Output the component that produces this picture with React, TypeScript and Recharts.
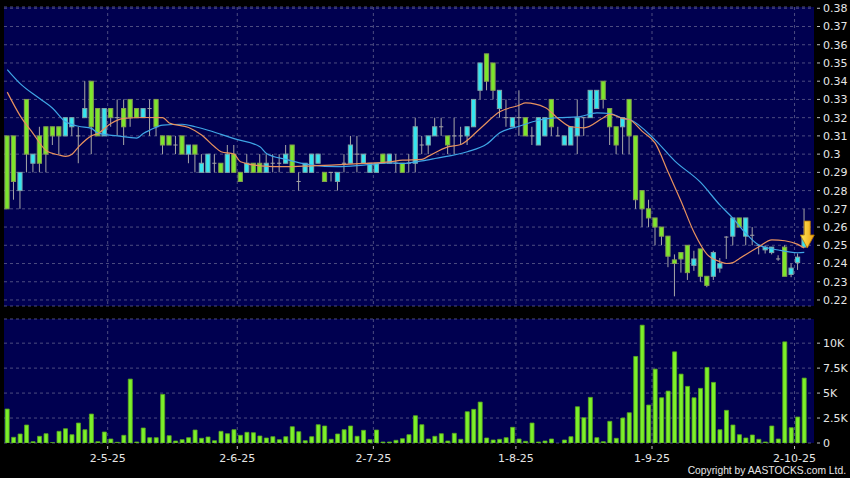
import {
  ComposedChart,
  Bar,
  Line,
  XAxis,
  YAxis,
  CartesianGrid,
  ReferenceDot,
} from 'recharts';

// Trading days, D-M-YY; the last slot is an empty band after the final candle.
const dates = [
  '7-4-25', '8-4-25', '9-4-25', '10-4-25', '11-4-25', '14-4-25', '15-4-25', '16-4-25', '17-4-25', '22-4-25',
  '23-4-25', '24-4-25', '25-4-25', '28-4-25', '29-4-25', '30-4-25',
  '2-5-25', '6-5-25', '7-5-25', '8-5-25', '9-5-25', '12-5-25', '13-5-25', '14-5-25', '15-5-25', '16-5-25',
  '19-5-25', '20-5-25', '21-5-25', '22-5-25', '23-5-25', '26-5-25', '27-5-25', '28-5-25', '29-5-25', '30-5-25',
  '2-6-25', '3-6-25', '4-6-25', '5-6-25', '6-6-25', '9-6-25', '10-6-25', '11-6-25', '12-6-25', '13-6-25',
  '16-6-25', '17-6-25', '18-6-25', '19-6-25', '20-6-25', '23-6-25', '24-6-25', '25-6-25', '26-6-25', '27-6-25', '30-6-25',
  '2-7-25', '3-7-25', '4-7-25', '7-7-25', '8-7-25', '9-7-25', '10-7-25', '11-7-25', '14-7-25', '15-7-25',
  '16-7-25', '17-7-25', '18-7-25', '21-7-25', '22-7-25', '23-7-25', '24-7-25', '25-7-25', '28-7-25', '29-7-25',
  '30-7-25', '31-7-25',
  '1-8-25', '4-8-25', '5-8-25', '6-8-25', '7-8-25', '8-8-25', '11-8-25', '12-8-25', '13-8-25', '14-8-25',
  '15-8-25', '18-8-25', '19-8-25', '20-8-25', '21-8-25', '22-8-25', '25-8-25', '26-8-25', '27-8-25', '28-8-25', '29-8-25',
  '1-9-25', '2-9-25', '3-9-25', '4-9-25', '5-9-25', '8-9-25', '9-9-25', '10-9-25', '11-9-25', '12-9-25',
  '15-9-25', '16-9-25', '17-9-25', '18-9-25', '19-9-25', '22-9-25', '23-9-25', '24-9-25', '25-9-25', '26-9-25',
  '29-9-25', '30-9-25',
  '2-10-25', '3-10-25',
  '6-10-25',
];

const opens = [
  0.31, 0.31, 0.28, 0.33, 0.295, 0.31, 0.315, 0.315, 0.315, 0.31,
  0.315, 0.31, 0.32, 0.34, 0.325, 0.31, 0.325, 0.32, 0.325, 0.33,
  0.325, 0.32, 0.325, 0.33, 0.31, 0.31, 0.305, 0.31, 0.3, 0.305,
  0.29, 0.29, 0.295, 0.295, 0.29, 0.3, 0.29, 0.29, 0.295, 0.295,
  0.29, 0.295, 0.295, 0.295, 0.305, 0.285, 0.29, 0.29, 0.295, 0.29,
  0.29, 0.285, 0.295, 0.295, 0.3, 0.295, 0.29, 0.29, 0.3, 0.295,
  0.295, 0.295, 0.295, 0.295, 0.305, 0.305, 0.31, 0.315, 0.31, 0.31,
  0.31, 0.31, 0.315, 0.335, 0.355, 0.35, 0.325, 0.32, 0.315, 0.32,
  0.32, 0.31, 0.305, 0.31, 0.33, 0.31, 0.305, 0.305, 0.31, 0.32,
  0.32, 0.325, 0.34, 0.325, 0.315, 0.315, 0.33, 0.31, 0.28, 0.27,
  0.265, 0.26, 0.255, 0.242, 0.246, 0.25, 0.239, 0.248, 0.233, 0.233,
  0.2375, 0.2545, 0.255, 0.265, 0.255, 0.2555, 0.25, 0.2475, 0.246, 0.2425,
  0.249, 0.234, 0.2405, 0.249,
];

const highs = [
  0.31, 0.31, 0.29, 0.33, 0.3, 0.315, 0.315, 0.315, 0.315, 0.32,
  0.32, 0.315, 0.34, 0.34, 0.325, 0.325, 0.325, 0.33, 0.33, 0.33,
  0.325, 0.325, 0.33, 0.33, 0.31, 0.31, 0.31, 0.31, 0.305, 0.305,
  0.3, 0.3, 0.3, 0.295, 0.305, 0.305, 0.29, 0.3, 0.295, 0.3,
  0.3, 0.3, 0.3, 0.305, 0.305, 0.29, 0.295, 0.3, 0.3, 0.29,
  0.29, 0.29, 0.3, 0.31, 0.31, 0.3, 0.295, 0.295, 0.3, 0.3,
  0.3, 0.295, 0.3, 0.32, 0.31, 0.31, 0.32, 0.32, 0.31, 0.32,
  0.315, 0.315, 0.33, 0.35, 0.355, 0.35, 0.335, 0.33, 0.32, 0.335,
  0.32, 0.315, 0.32, 0.32, 0.33, 0.315, 0.31, 0.315, 0.33, 0.32,
  0.335, 0.335, 0.34, 0.325, 0.315, 0.32, 0.33, 0.31, 0.28, 0.275,
  0.265, 0.26, 0.255, 0.245, 0.246, 0.25, 0.247, 0.248, 0.233, 0.247,
  0.243, 0.255, 0.265, 0.265, 0.265, 0.26, 0.25, 0.25, 0.249, 0.2445,
  0.25, 0.24, 0.2455, 0.27,
];

const lows = [
  0.27, 0.275, 0.27, 0.29, 0.29, 0.29, 0.29, 0.305, 0.3, 0.31,
  0.31, 0.295, 0.32, 0.3, 0.31, 0.31, 0.315, 0.31, 0.305, 0.315,
  0.32, 0.32, 0.31, 0.31, 0.3, 0.305, 0.3, 0.3, 0.295, 0.29,
  0.29, 0.29, 0.29, 0.29, 0.29, 0.29, 0.285, 0.29, 0.29, 0.29,
  0.29, 0.29, 0.29, 0.295, 0.29, 0.28, 0.29, 0.29, 0.295, 0.285,
  0.285, 0.28, 0.29, 0.295, 0.29, 0.295, 0.29, 0.29, 0.295, 0.295,
  0.29, 0.29, 0.29, 0.29, 0.3, 0.3, 0.31, 0.31, 0.3, 0.3,
  0.305, 0.305, 0.315, 0.33, 0.335, 0.33, 0.32, 0.315, 0.315, 0.31,
  0.31, 0.305, 0.305, 0.31, 0.31, 0.31, 0.305, 0.305, 0.3, 0.31,
  0.32, 0.325, 0.325, 0.305, 0.3, 0.3, 0.3, 0.27, 0.26, 0.26,
  0.25, 0.25, 0.238, 0.222, 0.235, 0.231, 0.236, 0.23, 0.227, 0.231,
  0.235, 0.2425, 0.25, 0.26, 0.25, 0.25, 0.245, 0.2455, 0.245, 0.2415,
  0.233, 0.2325, 0.2365, 0.249,
];

const closes = [
  0.27, 0.285, 0.29, 0.3, 0.3, 0.295, 0.3, 0.31, 0.31, 0.32,
  0.32, 0.31, 0.325, 0.315, 0.31, 0.325, 0.32, 0.32, 0.315, 0.32,
  0.32, 0.325, 0.325, 0.315, 0.305, 0.305, 0.305, 0.3, 0.305, 0.3,
  0.295, 0.3, 0.295, 0.29, 0.3, 0.29, 0.285, 0.295, 0.29, 0.29,
  0.295, 0.295, 0.295, 0.3, 0.29, 0.285, 0.295, 0.3, 0.3, 0.285,
  0.29, 0.29, 0.295, 0.305, 0.3, 0.3, 0.295, 0.295, 0.295, 0.3,
  0.295, 0.29, 0.295, 0.315, 0.305, 0.31, 0.315, 0.315, 0.305, 0.31,
  0.31, 0.315, 0.33, 0.35, 0.34, 0.335, 0.335, 0.32, 0.32, 0.32,
  0.31, 0.31, 0.32, 0.32, 0.315, 0.31, 0.31, 0.315, 0.32, 0.32,
  0.335, 0.335, 0.33, 0.315, 0.305, 0.32, 0.31, 0.275, 0.27, 0.265,
  0.26, 0.255, 0.244, 0.24, 0.2425, 0.235, 0.2425, 0.233, 0.228, 0.246,
  0.24, 0.2545, 0.265, 0.26, 0.265, 0.2555, 0.25, 0.249, 0.249, 0.2425,
  0.233, 0.2375, 0.2435, 0.255,
];

// volume in thousands of shares
const volumesK = [
  3.4, 0.57, 0.9, 1.8, 0.13, 0.67, 0.93, 0.03, 1.17, 1.43,
  0.83, 2.0, 1.33, 2.9, 0.13, 1.1, 0.4, 0.07, 0.77, 6.4,
  0.1, 1.5, 0.53, 0.53, 4.87, 0.73, 0.2, 0.33, 0.53, 1.3,
  0.47, 0.6, 0.23, 1.17, 0.93, 1.33, 0.77, 1.07, 1.03, 0.7,
  0.5, 0.63, 0.33, 0.63, 1.63, 1.13, 0.23, 0.63, 1.83, 1.7,
  0.37, 0.9, 1.33, 1.7, 0.67, 1.27, 0.33, 1.3, 0.1, 0.1,
  0.27, 0.43, 0.83, 2.73, 1.83, 0.4, 0.67, 0.93, 0.2, 0.97,
  0.37, 3.13, 3.37, 4.1, 0.5, 0.3, 0.37, 0.53, 1.57, 0.4,
  0.17, 2.0, 0.1, 0.2, 0.4, 0, 0.3, 0.63, 3.63, 2.53,
  4.57, 0.53, 0.13, 2.17, 0.47, 2.5, 3.03, 8.67, 11.8, 3.8,
  7.4, 4.53, 5.2, 9.13, 6.9, 5.67, 4.53, 5.47, 7.57, 6.07,
  1.33, 3.27, 1.8, 0.83, 0.5, 0.8, 0.37, 0.1, 1.7, 0.4,
  10.13, 1.53, 2.6, 6.5,
];

// moving averages: [day index, value]
const maShortPts: [number, number][] = [
  [0, 0.334], [2, 0.321], [4, 0.3113], [6, 0.302], [8, 0.2995], [9, 0.2988], [10, 0.3], [11, 0.304],
  [13, 0.31], [14, 0.3113], [16, 0.3168], [18, 0.3196], [21, 0.3201], [24, 0.32], [25, 0.3171],
  [28, 0.3146], [30, 0.3105], [32, 0.304], [33, 0.3013], [35, 0.3], [36, 0.2958], [39, 0.2936],
  [43, 0.2931], [47, 0.2936], [50, 0.294], [55, 0.2949], [59, 0.2958], [61, 0.2967], [64, 0.2971],
  [65, 0.2989], [68, 0.304], [70, 0.3053], [73, 0.3141], [76, 0.3232], [79, 0.3268], [80, 0.3281],
  [83, 0.3256], [85, 0.3196], [87, 0.315], [89, 0.3144], [92, 0.32], [93, 0.3219], [95, 0.3196],
  [96, 0.319], [98, 0.3125], [100, 0.306], [102, 0.29], [104, 0.274], [106, 0.257], [108, 0.245],
  [110, 0.241], [111, 0.24], [112, 0.2405], [113, 0.2428], [114, 0.245], [116, 0.2492], [118, 0.253],
  [120, 0.2525], [122, 0.2505], [123, 0.2485],
];

const maLongPts: [number, number][] = [
  [0, 0.3464], [2, 0.3387], [5, 0.3305], [7, 0.3252], [9, 0.3177], [11, 0.3153], [13, 0.3141],
  [14, 0.3115], [17, 0.31], [20, 0.3088], [21, 0.3113], [22, 0.3131], [24, 0.3159], [27, 0.3164],
  [29, 0.315], [31, 0.3131], [33, 0.3108], [35, 0.3085], [39, 0.304], [40, 0.3004], [43, 0.2971],
  [47, 0.294], [51, 0.2931], [55, 0.294], [59, 0.2952], [61, 0.2949], [64, 0.2963], [66, 0.2976],
  [71, 0.3013], [74, 0.3055], [76, 0.3117], [79, 0.3153], [82, 0.3186], [85, 0.32], [88, 0.3204],
  [91, 0.3226], [93, 0.3223], [95, 0.3196], [96, 0.319], [100, 0.3077], [103, 0.2963], [107, 0.2845],
  [110, 0.272], [112, 0.2648], [114, 0.2565], [116, 0.2501], [119, 0.2474], [122, 0.2459], [123, 0.2461],
];

const priceTicks = [0.22, 0.23, 0.24, 0.25, 0.26, 0.27, 0.28, 0.29, 0.3, 0.31, 0.32, 0.33, 0.34, 0.35, 0.36, 0.37, 0.38];
const volumeTicks = [0, 2.5, 5, 7.5, 10];
const monthTicks = ['2-5-25', '2-6-25', '2-7-25', '1-8-25', '1-9-25', '2-10-25'];
const markerPrice = 0.2485; // tip of the yellow arrow on the last bar

const W = 850;
const PLOT_LEFT = 4;
const AXIS_W = 36;
const PLOT_W = W - PLOT_LEFT - AXIS_W;
const BAND = PLOT_W / dates.length;
const FONT = '"DejaVu Sans", Verdana, sans-serif';

const C = {
  plot: '#000050',
  grid: '#4c4c80',
  text: '#e6e6e6',
  tick: '#c0c0c0',
  up: '#33e6f0',
  upEdge: '#7fa6aa',
  down: '#7ce62c',
  downEdge: '#86a050',
  wick: '#a6a6a6',
  vol: '#7cf02a',
  volEdge: '#5aa820',
  maShort: '#e8925e',
  maLong: '#3fa6e6',
};

const shortMap = new Map(maShortPts);
const longMap = new Map(maLongPts);
const rows = dates.map((date, i) => ({
  date,
  open: opens[i] ?? null,
  high: highs[i] ?? null,
  low: lows[i] ?? null,
  close: closes[i] ?? null,
  vol: volumesK[i] ?? null,
  maShort: shortMap.get(i) ?? null,
  maLong: longMap.get(i) ?? null,
}));

// month boundaries sit on the left edge of the first day's band
const monthEdges = monthTicks.map((t) => PLOT_LEFT + dates.indexOf(t) * BAND);

const fmtPrice = (v: number) => String(parseFloat(v.toFixed(2)));
const fmtVol = (v: number) => (v === 0 ? '0' : `${v}K`);

function Candle(props: any) {
  const { x, y, width, height, payload } = props;
  if (!payload || payload.open == null || !Number.isFinite(y)) return null;
  const top = Math.min(y, y + height);
  const span = Math.abs(height);
  const k = span / (payload.high - payload.low);
  const py = (v: number) => top + (payload.high - v) * k;
  const cx = x + width / 2;
  const bTop = py(Math.max(payload.open, payload.close));
  const bBot = py(Math.min(payload.open, payload.close));
  const bx = x + 0.9;
  const bw = width - 1.8;
  const up = payload.close > payload.open;
  const flat = payload.close === payload.open;
  return (
    <g>
      <line x1={cx} x2={cx} y1={top} y2={top + span} stroke={C.wick} strokeWidth={1} />
      {flat ? (
        <line x1={bx} x2={bx + bw} y1={bTop} y2={bTop} stroke={C.wick} strokeWidth={1} />
      ) : (
        <rect
          x={bx}
          y={bTop}
          width={bw}
          height={bBot - bTop}
          fill={up ? C.up : C.down}
          stroke={up ? C.upEdge : C.downEdge}
          strokeWidth={1}
        />
      )}
    </g>
  );
}

function ArrowMark({ cx, cy }: any) {
  if (!Number.isFinite(cx) || !Number.isFinite(cy)) return null;
  const x = cx + 3;
  const pts = [
    [x - 3, cy - 27], [x + 3, cy - 27], [x + 3, cy - 13], [x + 7, cy - 13],
    [x, cy], [x - 7, cy - 13], [x - 3, cy - 13],
  ];
  return (
    <g>
      <defs>
        <linearGradient id="arrowFill" x1="0" y1="0" x2="1" y2="0">
          <stop offset="0" stopColor="#ffe95a" />
          <stop offset="1" stopColor="#eda012" />
        </linearGradient>
      </defs>
      <polygon points={pts.map((p) => p.join(',')).join(' ')} fill="url(#arrowFill)" stroke="#b87800" strokeWidth={0.8} />
    </g>
  );
}

function RightTick({ x, y, payload, fmt }: any) {
  return (
    <g>
      <line x1={x - 6} x2={x - 3} y1={y} y2={y} stroke={C.tick} />
      <text x={x} y={y} dy="0.36em" textAnchor="start" fill={C.text} fontSize={11} fontFamily={FONT}>
        {fmt(payload.value)}
      </text>
    </g>
  );
}

function DateTick({ x, y, payload }: any) {
  const bx = x - BAND / 2;
  return (
    <g>
      <line x1={bx} x2={bx} y1={y - 8} y2={y - 5} stroke={C.tick} />
      <text x={bx} y={y} dy="0.71em" textAnchor="middle" fill={C.text} fontSize={11} fontFamily={FONT}>
        {payload.value}
      </text>
    </g>
  );
}

export default function App() {
  return (
    <div style={{ position: 'fixed', left: 0, top: 0, width: W, height: 478, background: '#000', overflow: 'hidden' }}>
      <div style={{ position: 'absolute', left: 0, top: 0 }}>
        <ComposedChart
          width={W}
          height={310}
          data={rows}
          margin={{ top: 7, right: 0, bottom: 4, left: PLOT_LEFT }}
          barCategoryGap={0}
        >
          <CartesianGrid
            fill={C.plot}
            fillOpacity={1}
            stroke={C.grid}
            strokeDasharray="3 3"
            verticalPoints={monthEdges}
          />
          <XAxis dataKey="date" hide />
          <YAxis
            orientation="right"
            width={AXIS_W}
            type="number"
            domain={[0.2167, 0.3807]}
            allowDataOverflow
            ticks={priceTicks}
            interval={0}
            axisLine={false}
            tickLine={false}
            tickSize={6}
            tickMargin={3}
            tick={<RightTick fmt={fmtPrice} />}
          />
          <Bar dataKey={(d: any) => (d.high == null ? null : [d.low, d.high])} shape={<Candle />} isAnimationActive={false} />
          <Line
            dataKey="maLong"
            type="monotone"
            stroke={C.maLong}
            strokeWidth={1.2}
            dot={false}
            connectNulls
            isAnimationActive={false}
          />
          <Line
            dataKey="maShort"
            type="monotone"
            stroke={C.maShort}
            strokeWidth={1.2}
            dot={false}
            connectNulls
            isAnimationActive={false}
          />
          <ReferenceDot x={dates[123]} y={markerPrice} shape={<ArrowMark />} ifOverflow="visible" />
        </ComposedChart>
      </div>
      <div style={{ position: 'absolute', left: 0, top: 310 }}>
        <ComposedChart
          width={W}
          height={168}
          data={rows}
          margin={{ top: 9, right: 0, bottom: 0, left: PLOT_LEFT }}
          barCategoryGap="18%"
        >
          <CartesianGrid
            fill={C.plot}
            fillOpacity={1}
            stroke={C.grid}
            strokeDasharray="3 3"
            verticalPoints={monthEdges}
          />
          <XAxis
            dataKey="date"
            ticks={monthTicks}
            interval={0}
            axisLine={false}
            tickLine={false}
            tickSize={6}
            tickMargin={5}
            height={35}
            tick={<DateTick />}
          />
          <YAxis
            orientation="right"
            width={AXIS_W}
            type="number"
            domain={[0, 12.42]}
            allowDataOverflow
            ticks={volumeTicks}
            interval={0}
            axisLine={false}
            tickLine={false}
            tickSize={6}
            tickMargin={3}
            tick={<RightTick fmt={fmtVol} />}
          />
          <Bar dataKey="vol" fill={C.vol} stroke={C.volEdge} strokeWidth={0.8} isAnimationActive={false} />
        </ComposedChart>
      </div>
      <svg style={{ position: 'absolute', left: 0, top: 0 }} width={W} height={478}>
        <text
          x={846}
          y={474}
          textAnchor="end"
          fill={C.text}
          fontSize={10.3}
          fontFamily='"Liberation Sans", Arial, sans-serif'
        >
          Copyright by AASTOCKS.com Ltd.
        </text>
      </svg>
    </div>
  );
}
